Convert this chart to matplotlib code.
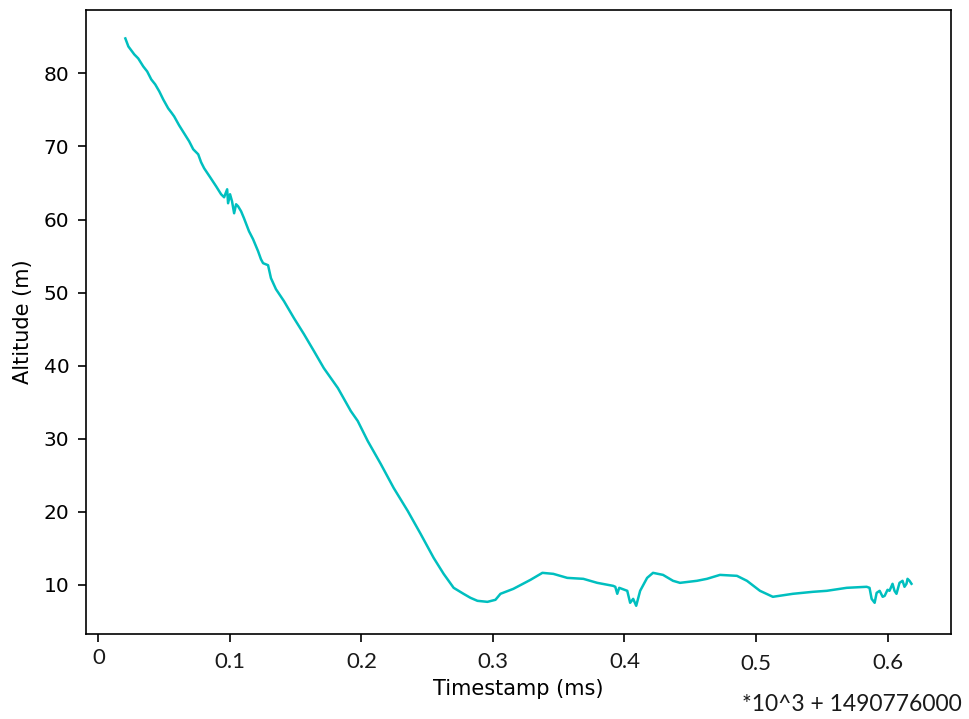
import matplotlib
matplotlib.use("Agg")
import matplotlib.pyplot as plt
import matplotlib.transforms as mtransforms

plt.rcParams["font.family"] = ["DejaVu Sans"]

# timestamp offset from 1490776000 s, in units of 10^3
t = [0.0205, 0.0228, 0.0273, 0.0303, 0.0341, 0.0371, 0.0402, 0.0432, 0.0463, 0.0493,
     0.0531, 0.0554, 0.0576, 0.0614, 0.0652, 0.0690, 0.0721, 0.0759, 0.0781, 0.0804,
     0.0850, 0.0895, 0.0933, 0.0956, 0.0979, 0.0986, 0.1001, 0.1016, 0.1032, 0.1047,
     0.1062, 0.1085, 0.1107, 0.1145, 0.1176, 0.1214, 0.1236, 0.1252, 0.1290, 0.1312,
     0.1350, 0.1411, 0.1487, 0.1563, 0.1639, 0.1714, 0.1821, 0.1919, 0.1972, 0.2048,
     0.2147, 0.2245, 0.2352, 0.2450, 0.2549, 0.2625, 0.2701, 0.2776, 0.2829, 0.2882,
     0.2958, 0.3019, 0.3057, 0.3155, 0.3285, 0.3376, 0.3459, 0.3565, 0.3687, 0.3793,
     0.3914, 0.3930, 0.3945, 0.3960, 0.4021, 0.4043, 0.4066, 0.4089, 0.4119, 0.4172,
     0.4217, 0.4293, 0.4369, 0.4422, 0.4551, 0.4627, 0.4726, 0.4855, 0.4931, 0.5030,
     0.5128, 0.5280, 0.5431, 0.5538, 0.5690, 0.5841, 0.5863, 0.5879, 0.5902, 0.5917,
     0.5940, 0.5963, 0.5978, 0.6000, 0.6015, 0.6038, 0.6053, 0.6068, 0.6091, 0.6114,
     0.6129, 0.6144, 0.6152, 0.6167, 0.6182]

altitude = [84.79, 83.69, 82.60, 82.05, 80.96, 80.27, 79.18, 78.50, 77.54, 76.44,
            75.21, 74.67, 74.12, 72.89, 71.80, 70.71, 69.62, 68.93, 67.84, 67.02,
            65.78, 64.55, 63.46, 63.05, 64.14, 62.23, 63.46, 62.50, 60.86, 62.09,
            61.82, 61.13, 60.18, 58.40, 57.31, 55.67, 54.57, 54.03, 53.75, 51.98,
            50.47, 48.83, 46.50, 44.31, 41.99, 39.66, 36.93, 33.79, 32.42, 29.68,
            26.54, 23.26, 20.11, 16.97, 13.69, 11.50, 9.59, 8.77, 8.22, 7.81,
            7.67, 7.95, 8.77, 9.45, 10.68, 11.64, 11.50, 10.95, 10.82, 10.27,
            9.86, 9.73, 8.77, 9.59, 9.18, 7.54, 8.08, 7.13, 9.18, 10.95,
            11.64, 11.36, 10.55, 10.27, 10.55, 10.82, 11.36, 11.23, 10.55, 9.18,
            8.36, 8.77, 9.04, 9.18, 9.59, 9.73, 9.59, 8.08, 7.54, 8.90,
            9.18, 8.36, 8.49, 9.32, 9.18, 10.14, 9.18, 8.77, 10.27, 10.55,
            9.73, 10.14, 10.82, 10.55, 10.14]

xticks = [0, 0.1, 0.2, 0.3, 0.4, 0.5, 0.6]
xtick_labels = ["0", "0.1", "0.2", "0.3", "0.4", "0.5", "0.6"]
yticks = [10, 20, 30, 40, 50, 60, 70, 80]

fig = plt.figure(figsize=(9.69, 7.19), dpi=100)
ax = fig.add_axes([0.0888, 0.118, 0.8924, 0.868])
ax.plot(t, altitude, color="c", linewidth=1.8)

for sp in ax.spines.values():
    sp.set_linewidth(1.2)

ax.set_yticks(yticks)
ax.tick_params(axis="y", labelsize=14.5, length=6, width=1.2, pad=6)
ax.set_xticks(xticks)
ax.set_xticklabels([])
ax.tick_params(axis="x", length=6, width=1.2)
ax.set_ylabel("Altitude (m)", fontsize=15, labelpad=8)

# hand-placed tick labels below the axis
trans = mtransforms.blended_transform_factory(ax.transData, ax.transAxes)
label_y = [-0.038, -0.045, -0.045, -0.045, -0.045, -0.048, -0.046]
for xv, lab, yv in zip(xticks, xtick_labels, label_y):
    ax.text(xv, yv, lab, transform=trans, ha="center", va="center",
            fontsize=16, family="Lato", color="#1a1a1a")

ax.text(0.5, -0.088, "Timestamp (ms)", transform=ax.transAxes,
        ha="center", va="center", fontsize=15)
fig.text(0.993, 0.0195, "*10^3 + 1490776000", ha="right", va="center",
         fontsize=16.5, family="Lato", color="#1a1a1a")

fig.savefig("out.png", dpi=100)
